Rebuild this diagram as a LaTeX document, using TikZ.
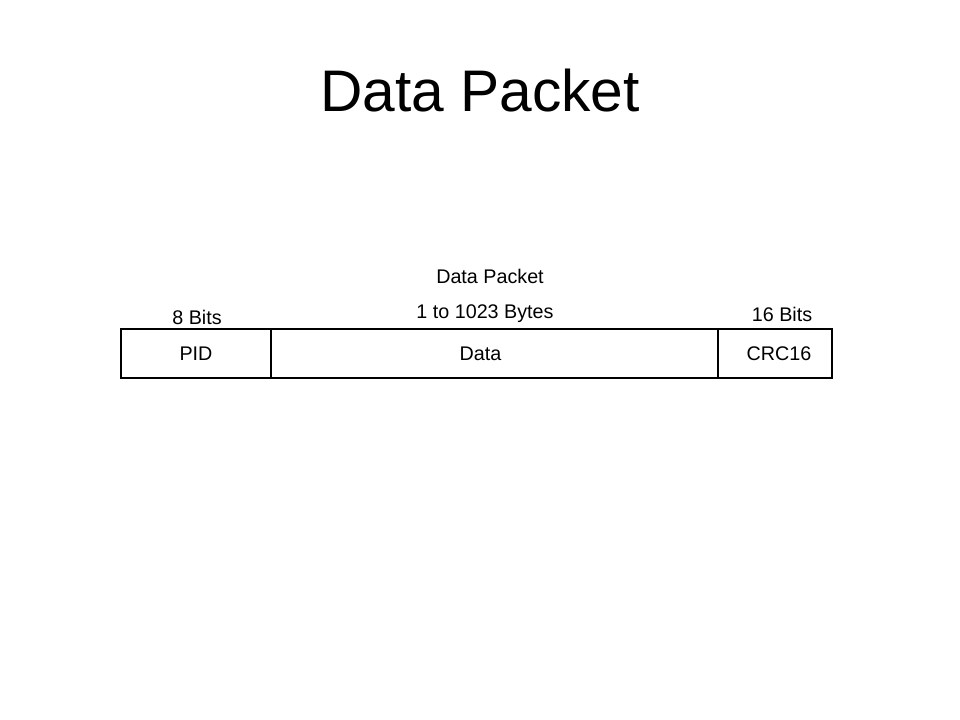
\documentclass[tikz,border=0pt]{standalone}
\usepackage{fontspec}
\setmainfont{Liberation Sans}
\usetikzlibrary{positioning}
\tikzset{
    x=0.75pt,
    y=-0.75pt,
    field/.style = {
        draw,
        shape=rectangle,
        minimum height=36.75pt,
        inner sep=0pt,
        line width=0.8pt,
        font=\fontsize{14.8}{17}\selectfont
    },
    caption/.style = {
        shape=rectangle,
        inner sep=0pt,
        font=\fontsize{14.8}{17}\selectfont
    },
    title/.style = {
        shape=rectangle,
        inner sep=0pt,
        font=\fontsize{44}{52}\selectfont
    },
}
\begin{document}
\begin{tikzpicture}
    \useasboundingbox (0,0) rectangle (960,720);
    \node[title] (head) at (480,91) {Data Packet};

    \node[field, minimum width=112.5pt] (pid) at (196,353.5) {PID};
    \node[field, minimum width=335.25pt] (data) at (494.5,353.5) {\hspace{-21pt}Data};
    \node[field, minimum width=85.5pt] (crc) at (775,353.5) {\hspace{6pt}CRC16};

    \node[caption] (pidbits) at (197,317) {8 Bits};
    \node[caption] (databytes) at (485,314) {1 to 1023 Bytes};
    \node[caption] (packet) at (490,276) {Data Packet};
    \node[caption] (crcbits) at (782,314) {16 Bits};
\end{tikzpicture}
\end{document}
